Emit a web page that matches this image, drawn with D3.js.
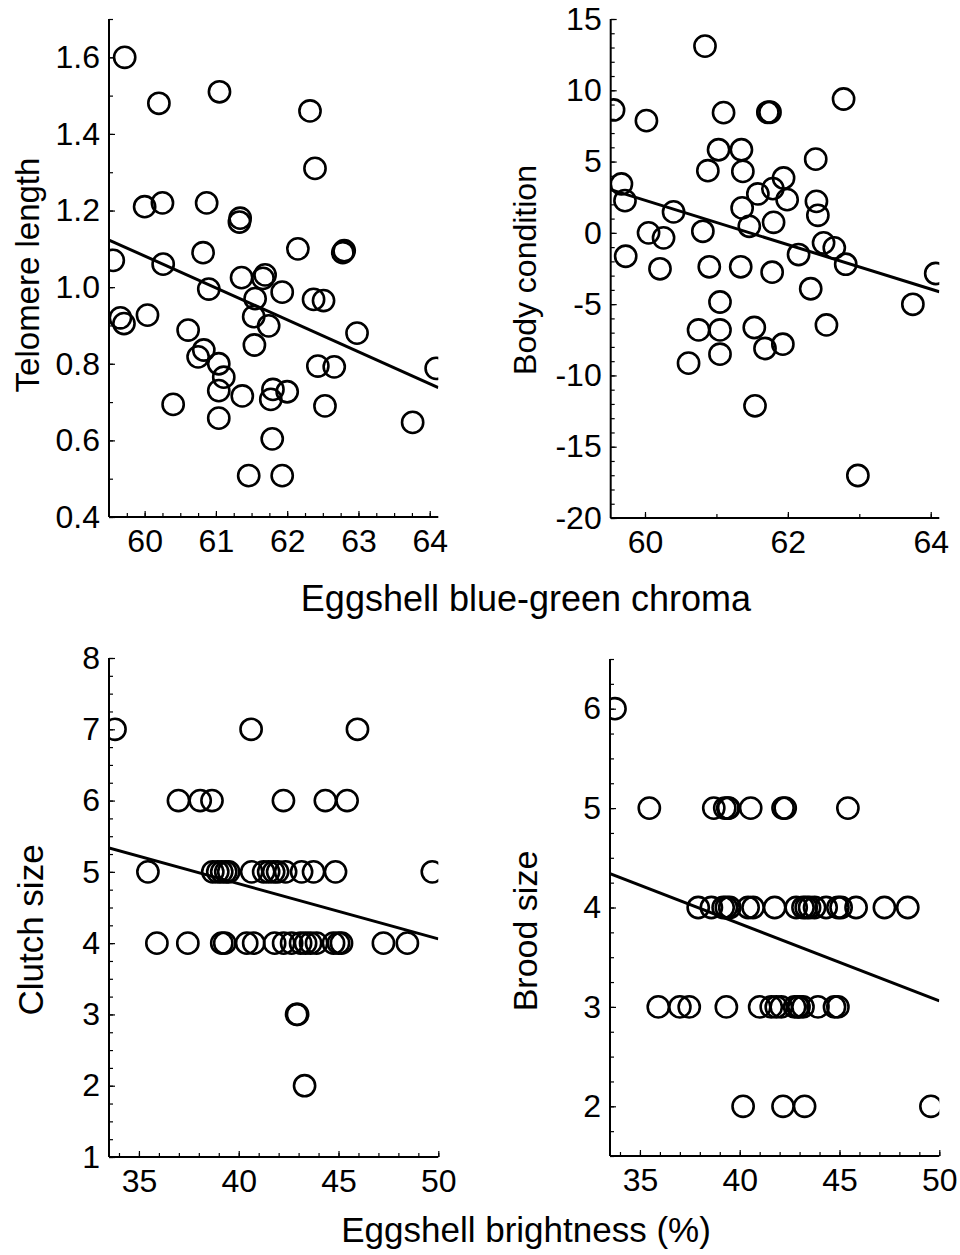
<!DOCTYPE html>
<html>
<head>
<meta charset="utf-8">
<script src="https://cdn.jsdelivr.net/npm/d3@7"></script>
<style>
  body { margin: 0; background: #fff; }
  text { font-family: "Liberation Sans", Arial, sans-serif; fill: #000; }
</style>
</head>
<body>
<div id="chart-area"></div>
<script>
// ---- data ----
// top-left: chroma vs telomere length
const chromaTelomere = [59.72, 60.20, 61.05, 62.32, 62.39, 60.00, 60.25, 60.87, 61.33, 61.34,
  62.15, 62.78, 62.80, 59.56, 60.26, 60.82, 61.36, 61.69, 61.66, 60.90,
  61.93, 61.55, 62.37, 62.51, 59.66, 59.71, 60.04, 61.53, 61.74, 60.61,
  62.98, 61.54, 60.83, 60.75, 61.04, 61.11, 61.04, 62.43, 62.66, 64.09,
  61.80, 61.77, 62.00, 61.37, 60.40, 62.53, 61.04, 63.76, 61.79, 61.46, 61.93];
const telomereLength = [1.60, 1.48, 1.51, 1.46, 1.31, 1.21, 1.22, 1.22, 1.17, 1.18,
  1.10, 1.09, 1.095, 1.07, 1.06, 1.09, 1.025, 1.032, 1.023, 0.995,
  0.987, 0.97, 0.968, 0.965, 0.92, 0.905, 0.927, 0.923, 0.899, 0.888,
  0.88, 0.849, 0.836, 0.818, 0.80, 0.765, 0.73, 0.794, 0.792, 0.788,
  0.733, 0.707, 0.727, 0.716, 0.694, 0.69, 0.658, 0.647, 0.604, 0.508, 0.508];
const telomereFitX = [59.5, 64.12];
const telomereFitY = [1.123, 0.738];

// top-right: chroma vs body condition
const chromaBody = [60.84, 59.56, 60.02, 61.10, 61.72, 61.75, 62.78, 61.03, 61.35, 60.88,
  61.37, 62.39, 59.67, 59.72, 61.94, 61.79, 61.58, 61.99, 62.40, 62.42,
  61.36, 60.40, 61.80, 61.46, 60.05, 60.26, 60.81, 62.15, 62.50, 62.65,
  62.81, 59.73, 64.07, 60.21, 60.90, 61.34, 61.78, 62.32, 63.75, 61.05,
  60.75, 61.05, 61.53, 62.54, 61.68, 61.93, 61.05, 60.61, 61.54, 62.98];
const bodyCondition = [13.1, 8.62, 7.87, 8.43, 8.46, 8.46, 9.39, 5.83, 5.83, 4.36,
  4.31, 5.17, 3.43, 2.26, 3.85, 3.10, 2.73, 2.33, 2.21, 1.23,
  1.75, 1.47, 0.74, 0.46, 0.00, -0.35, 0.11, -1.52, -0.70, -1.05,
  -2.20, -1.64, -2.85, -2.52, -2.38, -2.38, -2.76, -3.92, -5.01, -4.85,
  -6.81, -6.81, -6.64, -6.46, -8.11, -7.81, -8.51, -9.14, -12.13, -17.02];
const bodyFitX = [59.52, 64.12];
const bodyFitY = [3.03, -4.13];

// bottom-left: brightness vs clutch size
const brightnessClutch = [33.8, 40.62, 45.95,
  36.98, 38.07, 38.66, 42.24, 44.34, 45.43,
  35.45, 38.7, 38.95, 39.15, 39.35, 39.5, 40.65, 41.25, 41.5, 41.75, 41.95, 42.35, 43.15, 43.75, 44.85, 49.7,
  35.9, 37.45, 39.15, 39.3, 40.4, 40.75, 41.8, 42.25, 42.65, 43.1, 43.35, 43.6, 43.9, 44.75, 45.0, 45.15, 47.25, 48.45,
  42.9, 42.95,
  43.3];
const clutchSize = [7, 7, 7,
  6, 6, 6, 6, 6, 6,
  5, 5, 5, 5, 5, 5, 5, 5, 5, 5, 5, 5, 5, 5, 5, 5,
  4, 4, 4, 4, 4, 4, 4, 4, 4, 4, 4, 4, 4, 4, 4, 4, 4, 4,
  3, 3,
  2];
const clutchFitX = [33.5, 50];
const clutchFitY = [5.336, 4.06];

// bottom-right: brightness vs brood size
const brightnessBrood = [33.75,
  35.47, 38.7, 39.25, 39.4, 39.45, 40.55, 42.17, 42.28, 45.42,
  37.92, 38.58, 39.17, 39.33, 39.5, 40.42, 40.67, 41.75, 42.83, 43.17, 43.33, 43.5, 43.75, 44.33, 44.92, 45.08, 45.83, 47.25, 48.42,
  35.92, 37.0, 37.47, 39.33, 41.0, 41.58, 41.83, 42.08, 42.75, 42.92, 42.97, 43.17, 43.92, 44.75, 44.92,
  40.17, 42.17, 43.25, 49.58];
const broodSize = [6,
  5, 5, 5, 5, 5, 5, 5, 5, 5,
  4, 4, 4, 4, 4, 4, 4, 4, 4, 4, 4, 4, 4, 4, 4, 4, 4, 4, 4,
  3, 3, 3, 3, 3, 3, 3, 3, 3, 3, 3, 3, 3, 3, 3,
  2, 2, 2, 2];
const broodFitX = [33.5, 50];
const broodFitY = [4.34, 3.06];

// ---- ticks ----
const chromaMinorTicks = d3.range(239, 257).map((i) => i / 4);
const chromaMajorTicks = [60, 61, 62, 63, 64];
const telomereMinorTicks = d3.range(4, 18).map((i) => i / 10);
const telomereMajorTicks = [0.4, 0.6, 0.8, 1.0, 1.2, 1.4, 1.6];
const chromaBodyMinorTicks = [60, 61, 62, 63, 64];
const chromaBodyMajorTicks = [60, 62, 64];
const bodyMinorTicks = d3.range(-20, 16);
const bodyMajorTicks = [-20, -15, -10, -5, 0, 5, 10, 15];
const brightMinorTicks = d3.range(34, 51);
const brightMajorTicks = [35, 40, 45, 50];
const clutchMinorTicks = d3.range(4, 33).map((i) => i / 4);
const clutchMajorTicks = [1, 2, 3, 4, 5, 6, 7, 8];
const broodMinorTicks = d3.range(6, 27).map((i) => i / 4);
const broodMajorTicks = [2, 3, 4, 5, 6];

const width = 960;
const height = 1255;
const tickFont = 32;

const svg = d3.select("#chart-area")
  .append("svg")
  .attr("width", width)
  .attr("height", height);

function drawPanel(p, idx) {
  const x = d3.scaleLinear().domain(p.xDomain).range([p.left, p.right]);
  const y = d3.scaleLinear().domain(p.yDomain).range([p.bottom, p.top]);

  const clipId = "clip" + idx;
  svg.append("clipPath").attr("id", clipId)
    .append("rect")
    .attr("x", p.left).attr("y", p.top)
    .attr("width", p.right - p.left).attr("height", p.bottom - p.top);

  const g = svg.append("g");

  // minor ticks (inward, no labels)
  g.append("g")
    .attr("transform", `translate(0,${p.bottom})`)
    .call(d3.axisBottom(x).tickValues(p.xMinor).tickSize(-4).tickFormat(""))
    .call((a) => a.select(".domain").remove());
  g.append("g")
    .attr("transform", `translate(${p.left},0)`)
    .call(d3.axisLeft(y).tickValues(p.yMinor).tickSize(-4).tickFormat(""))
    .call((a) => a.select(".domain").remove());

  // major ticks with labels
  const xAxis = g.append("g")
    .attr("transform", `translate(0,${p.bottom})`)
    .call(d3.axisBottom(x).tickValues(p.xMajor).tickSizeInner(-6).tickSizeOuter(0)
      .tickPadding(12).tickFormat((d) => String(d)));
  const yAxis = g.append("g")
    .attr("transform", `translate(${p.left},0)`)
    .call(d3.axisLeft(y).tickValues(p.yMajor).tickSizeInner(-6).tickSizeOuter(0)
      .tickPadding(9).tickFormat(p.yFormat));
  [xAxis, yAxis].forEach((a) => {
    a.selectAll("text").attr("font-size", tickFont).attr("font-family", null);
    a.selectAll(".domain").remove();
  });
  g.selectAll(".tick line").attr("stroke", "#000").attr("stroke-width", 1.2);

  // axis lines
  g.append("line")
    .attr("x1", p.left).attr("x2", p.left)
    .attr("y1", p.top).attr("y2", p.bottom)
    .attr("stroke", "#000").attr("stroke-width", 2);
  g.append("line")
    .attr("x1", p.left).attr("x2", p.right)
    .attr("y1", p.bottom).attr("y2", p.bottom)
    .attr("stroke", "#000").attr("stroke-width", 2);

  const plot = g.append("g").attr("clip-path", `url(#${clipId})`);

  // regression line
  plot.append("path")
    .datum(d3.zip(p.fitX, p.fitY))
    .attr("fill", "none")
    .attr("stroke", "#000")
    .attr("stroke-width", 3)
    .attr("d", d3.line().x((d) => x(d[0])).y((d) => y(d[1])));

  // points
  plot.selectAll("circle")
    .data(d3.zip(p.xs, p.ys))
    .enter()
    .append("circle")
    .attr("cx", (d) => x(d[0]))
    .attr("cy", (d) => y(d[1]))
    .attr("r", 10.6)
    .attr("fill", "none")
    .attr("stroke", "#000")
    .attr("stroke-width", 2.6);

  // y title
  svg.append("text")
    .attr("transform", `translate(${p.yTitleX},${p.yTitleY}) rotate(-90)`)
    .attr("text-anchor", "middle")
    .attr("dominant-baseline", "central")
    .attr("font-size", p.yTitleSize)
    .text(p.yTitle);
}

const panels = [
  { left: 109, right: 438.3, top: 19, bottom: 517,
    xDomain: [59.5, 64.12], yDomain: [0.4, 1.7],
    xMinor: chromaMinorTicks, xMajor: chromaMajorTicks,
    yMinor: telomereMinorTicks, yMajor: telomereMajorTicks,
    yFormat: d3.format(".1f"),
    xs: chromaTelomere, ys: telomereLength, fitX: telomereFitX, fitY: telomereFitY,
    yTitle: "Telomere length", yTitleX: 27, yTitleY: 275, yTitleSize: 33 },
  { left: 610.7, right: 939.3, top: 19, bottom: 518,
    xDomain: [59.52, 64.12], yDomain: [-20, 15],
    xMinor: chromaBodyMinorTicks, xMajor: chromaBodyMajorTicks,
    yMinor: bodyMinorTicks, yMajor: bodyMajorTicks,
    yFormat: (d) => String(d),
    xs: chromaBody, ys: bodyCondition, fitX: bodyFitX, fitY: bodyFitY,
    yTitle: "Body condition", yTitleX: 525, yTitleY: 270, yTitleSize: 32 },
  { left: 109, right: 438.3, top: 658, bottom: 1157,
    xDomain: [33.5, 50], yDomain: [1, 8],
    xMinor: brightMinorTicks, xMajor: brightMajorTicks,
    yMinor: clutchMinorTicks, yMajor: clutchMajorTicks,
    yFormat: (d) => String(d),
    xs: brightnessClutch, ys: clutchSize, fitX: clutchFitX, fitY: clutchFitY,
    yTitle: "Clutch size", yTitleX: 30, yTitleY: 930, yTitleSize: 35 },
  { left: 610, right: 939.3, top: 659, bottom: 1156,
    xDomain: [33.5, 50], yDomain: [1.5, 6.5],
    xMinor: brightMinorTicks, xMajor: brightMajorTicks,
    yMinor: broodMinorTicks, yMajor: broodMajorTicks,
    yFormat: (d) => String(d),
    xs: brightnessBrood, ys: broodSize, fitX: broodFitX, fitY: broodFitY,
    yTitle: "Brood size", yTitleX: 525, yTitleY: 931, yTitleSize: 34 }
];

panels.forEach(drawPanel);

// shared x titles
svg.append("text")
  .attr("x", 526).attr("y", 611)
  .attr("text-anchor", "middle")
  .attr("font-size", 36)
  .text("Eggshell blue-green chroma");
svg.append("text")
  .attr("x", 526).attr("y", 1242)
  .attr("text-anchor", "middle")
  .attr("font-size", 35)
  .text("Eggshell brightness (%)");
</script>
</body>
</html>
